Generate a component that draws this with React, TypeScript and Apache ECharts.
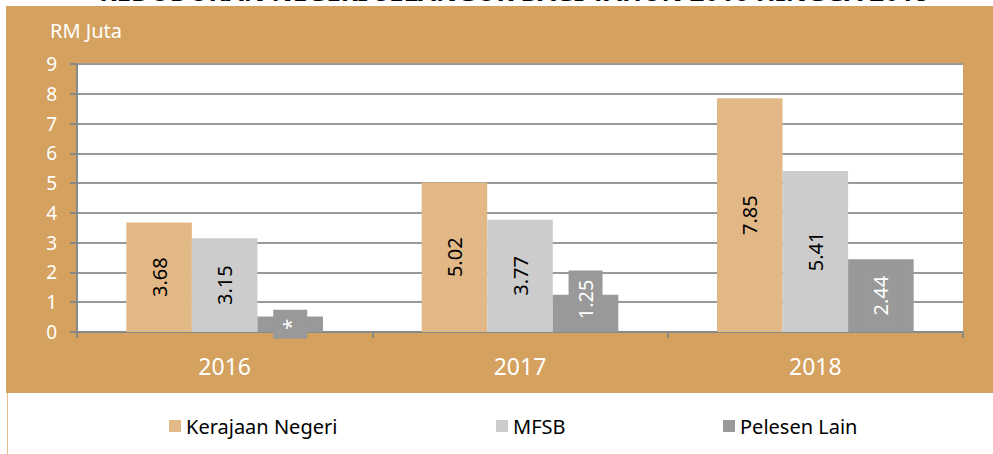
import React, { useEffect, useRef } from "react";
import * as echarts from "echarts";

const categories = ["2016", "2017", "2018"];
const seriesNames = ["Kerajaan Negeri", "MFSB", "Pelesen Lain"];
const kerajaanNegeri = [3.68, 5.02, 7.85];
const mfsb = [3.15, 3.77, 5.41];
const pelesenLain = [0.52, 1.25, 2.44];
const pelesenLabels = ["*", "1.25", "2.44"];
const yMin = 0;
const yMax = 9;
const yInterval = 1;
const titleText = "KEDUDUKAN NEGERI SELANGOR BAGI TAHUN 2016 HINGGA 2018";
const unitText = "RM Juta";

const FONT = "'Noto Sans', 'DejaVu Sans', sans-serif";
const ORANGE = "#D4A15E";
const C1 = "#E2B887";
const C2 = "#CCCCCC";
const C3 = "#999999";

export default function App() {
  const ref = useRef<HTMLDivElement>(null);
  useEffect(() => {
    if (!ref.current) return;
    const chart = echarts.init(ref.current, null, { renderer: "svg" });
    const labelBase = {
      show: true,
      position: "inside",
      rotate: 90,
      fontSize: 20,
      fontFamily: FONT,
      color: "#000",
    };
    const legendCommon = {
      top: 415,
      itemWidth: 12,
      itemHeight: 12,
      icon: "rect",
      padding: 0,
      textStyle: { fontSize: 20, fontFamily: FONT, color: "#000", lineHeight: 22, padding: [0, 0, 0, 0] },
    };
    chart.setOption({
      animation: false,
      backgroundColor: "#fff",
      textStyle: { fontFamily: FONT },
      graphic: [
        {
          type: "rect",
          z: -10,
          shape: { x: 6, y: 6, width: 987, height: 387 },
          style: { fill: ORANGE },
        },
        {
          type: "line",
          z: -10,
          shape: { x1: 7.5, y1: 393, x2: 7.5, y2: 454 },
          style: { stroke: "#E0BE92", lineWidth: 1 },
        },
        {
          type: "text",
          x: 514,
          y: -9,
          z: 100,
          style: {
            text: titleText,
            fill: "#000",
            font: "bold 26px 'Noto Sans', sans-serif",
            textAlign: "center",
            textVerticalAlign: "middle",
          },
        },
        {
          type: "text",
          x: 50,
          y: 20,
          style: {
            text: unitText,
            fill: "#fff",
            fontSize: 20,
            fontFamily: FONT,
            textVerticalAlign: "top",
          },
        },
      ],
      legend: [
        { ...legendCommon, left: 169, data: [seriesNames[0]] },
        { ...legendCommon, left: 496, data: [seriesNames[1]] },
        { ...legendCommon, left: 723, data: [seriesNames[2]] },
      ],
      grid: {
        left: 77,
        right: 30,
        top: 64,
        bottom: 122,
        show: true,
        backgroundColor: "#fff",
        borderWidth: 0,
        containLabel: false,
      },
      xAxis: {
        type: "category",
        data: categories,
        axisLine: { show: true, lineStyle: { color: "#888", width: 2 } },
        axisTick: { show: true, length: 6, lineStyle: { color: "#888", width: 2 } },
        axisLabel: { color: "#fff", fontSize: 23, fontFamily: FONT, margin: 22 },
      },
      yAxis: {
        type: "value",
        min: yMin,
        max: yMax,
        interval: yInterval,
        axisLine: { show: true, lineStyle: { color: "#888", width: 2 } },
        axisTick: { show: true, length: 7, lineStyle: { color: "#888", width: 2 } },
        axisLabel: { color: "#fff", fontSize: 19, fontFamily: FONT, margin: 20 },
        splitLine: { show: true, lineStyle: { color: "#999", width: 2 } },
      },
      series: [
        {
          name: seriesNames[0],
          type: "bar",
          data: kerajaanNegeri,
          barWidth: "22.2%",
          barGap: "0%",
          itemStyle: { color: C1 },
          label: { ...labelBase, formatter: (p: any) => Number(p.value).toFixed(2) },
          emphasis: { disabled: true },
        },
        {
          name: seriesNames[1],
          type: "bar",
          data: mfsb,
          barWidth: "22.2%",
          barGap: "0%",
          itemStyle: { color: C2 },
          label: { ...labelBase, formatter: (p: any) => Number(p.value).toFixed(2) },
          emphasis: { disabled: true },
        },
        {
          name: seriesNames[2],
          type: "bar",
          data: pelesenLain.map((v, i) =>
            i === 1 ? { value: v, label: { offset: [14, 0] } } : v
          ),
          barWidth: "22.2%",
          barGap: "0%",
          itemStyle: { color: C3 },
          label: {
            ...labelBase,
            color: "#fff",
            backgroundColor: C3,
            padding: [5, 9],
            lineHeight: 24,
            formatter: (p: any) => pelesenLabels[p.dataIndex],
          },
          emphasis: { disabled: true },
        },
      ],
    });
    return () => chart.dispose();
  }, []);
  return (
    <div
      ref={ref}
      style={{ position: "fixed", left: 0, top: 0, width: 993, height: 454 }}
    />
  );
}
